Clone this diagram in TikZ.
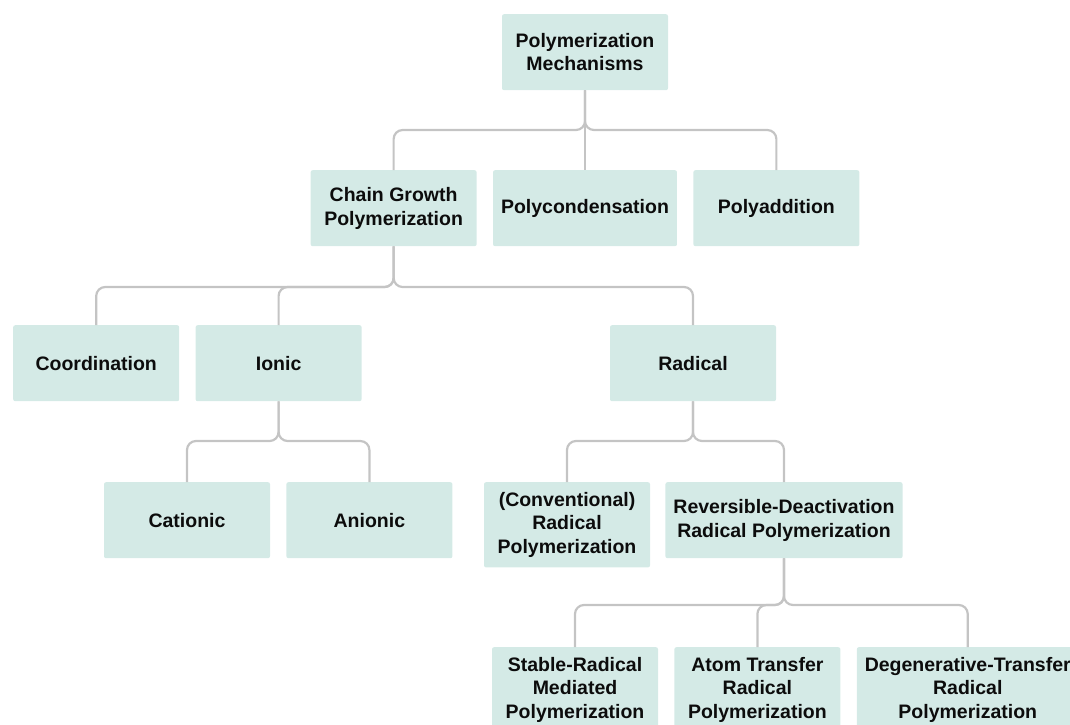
\documentclass[tikz,border=0pt]{standalone}
\usepackage{fontspec}
\setmainfont{Liberation Sans}
\usepackage{xcolor}
\definecolor{boxteal}{RGB}{212, 234, 230}
\definecolor{linkgray}{RGB}{196, 196, 196}
\definecolor{textdark}{RGB}{12, 12, 12}
\usetikzlibrary{positioning}

\begin{document}
\begin{tikzpicture}[x=1pt, y=-1pt, node distance=16pt]
  \tikzstyle{block} = [rectangle, fill=boxteal, text=textdark, font=\fontsize{19.5}{23.5}\selectfont\bfseries, align=center, minimum width=166pt, minimum height=76pt, inner xsep=8pt, inner ysep=10pt, rounded corners=2pt]
  \tikzstyle{link} = [draw=linkgray, line width=2.2pt, rounded corners=9pt]

  \useasboundingbox (0,0) rectangle (1070,724);

  % top level
  \node [block, anchor=north] (mech) at (585,14) {Polymerization\\ Mechanisms};

  \node [block, anchor=north] (condens) at (585,170) {Polycondensation};
  \node [block, left=of condens] (chain) {Chain Growth\\ Polymerization};
  \node [block, right=of condens] (addit) {Polyaddition};

  % chain growth
  \node [block, anchor=north west] (coord) at (13,325) {Coordination};
  \node [block, right=of coord] (ionic) {Ionic};
  \node [block, anchor=north] (radical) at (693,325) {Radical};

  \node [block, anchor=north] (cation) at (187,482) {Cationic};
  \node [block, right=of cation] (anion) {Anionic};

  \node [block, anchor=north] (convrad) at (567,482) {(Conventional)\\ Radical\\ Polymerization};
  \node [block, anchor=north] (rdrp) at (784,482) {Reversible-Deactivation\\ Radical Polymerization};

  \node [block, anchor=north] (stable) at (575,647) {Stable-Radical\\ Mediated\\ Polymerization};
  \node [block, right=of stable] (atrp) {Atom Transfer\\ Radical\\ Polymerization};
  \node [block, right=of atrp] (degen) {Degenerative-Transfer\\ Radical\\ Polymerization};

  % junctions
  \coordinate (j1) at (mech.south |- 0,130);
  \coordinate (j2) at (chain.south |- 0,287);
  \coordinate (j3) at (ionic.south |- 0,441);
  \coordinate (j4) at (radical.south |- 0,441);
  \coordinate (j5) at (rdrp.south |- 0,605);

  \draw [link] (mech.south) -- (j1) -| (chain.north);
  \draw [link] (mech.south) -- (condens.north);
  \draw [link] (mech.south) -- (j1) -| (addit.north);

  \draw [link] (chain.south) -- (j2) -| (coord.north);
  \draw [link] (chain.south) -- (j2) -| (ionic.north);
  \draw [link] (chain.south) -- (j2) -| (radical.north);

  \draw [link] (ionic.south) -- (j3) -| (cation.north);
  \draw [link] (ionic.south) -- (j3) -| (anion.north);

  \draw [link] (radical.south) -- (j4) -| (convrad.north);
  \draw [link] (radical.south) -- (j4) -| (rdrp.north);

  \draw [link] (rdrp.south) -- (j5) -| (stable.north);
  \draw [link] (rdrp.south) -- (j5) -| (atrp.north);
  \draw [link] (rdrp.south) -- (j5) -| (degen.north);
\end{tikzpicture}
\end{document}
